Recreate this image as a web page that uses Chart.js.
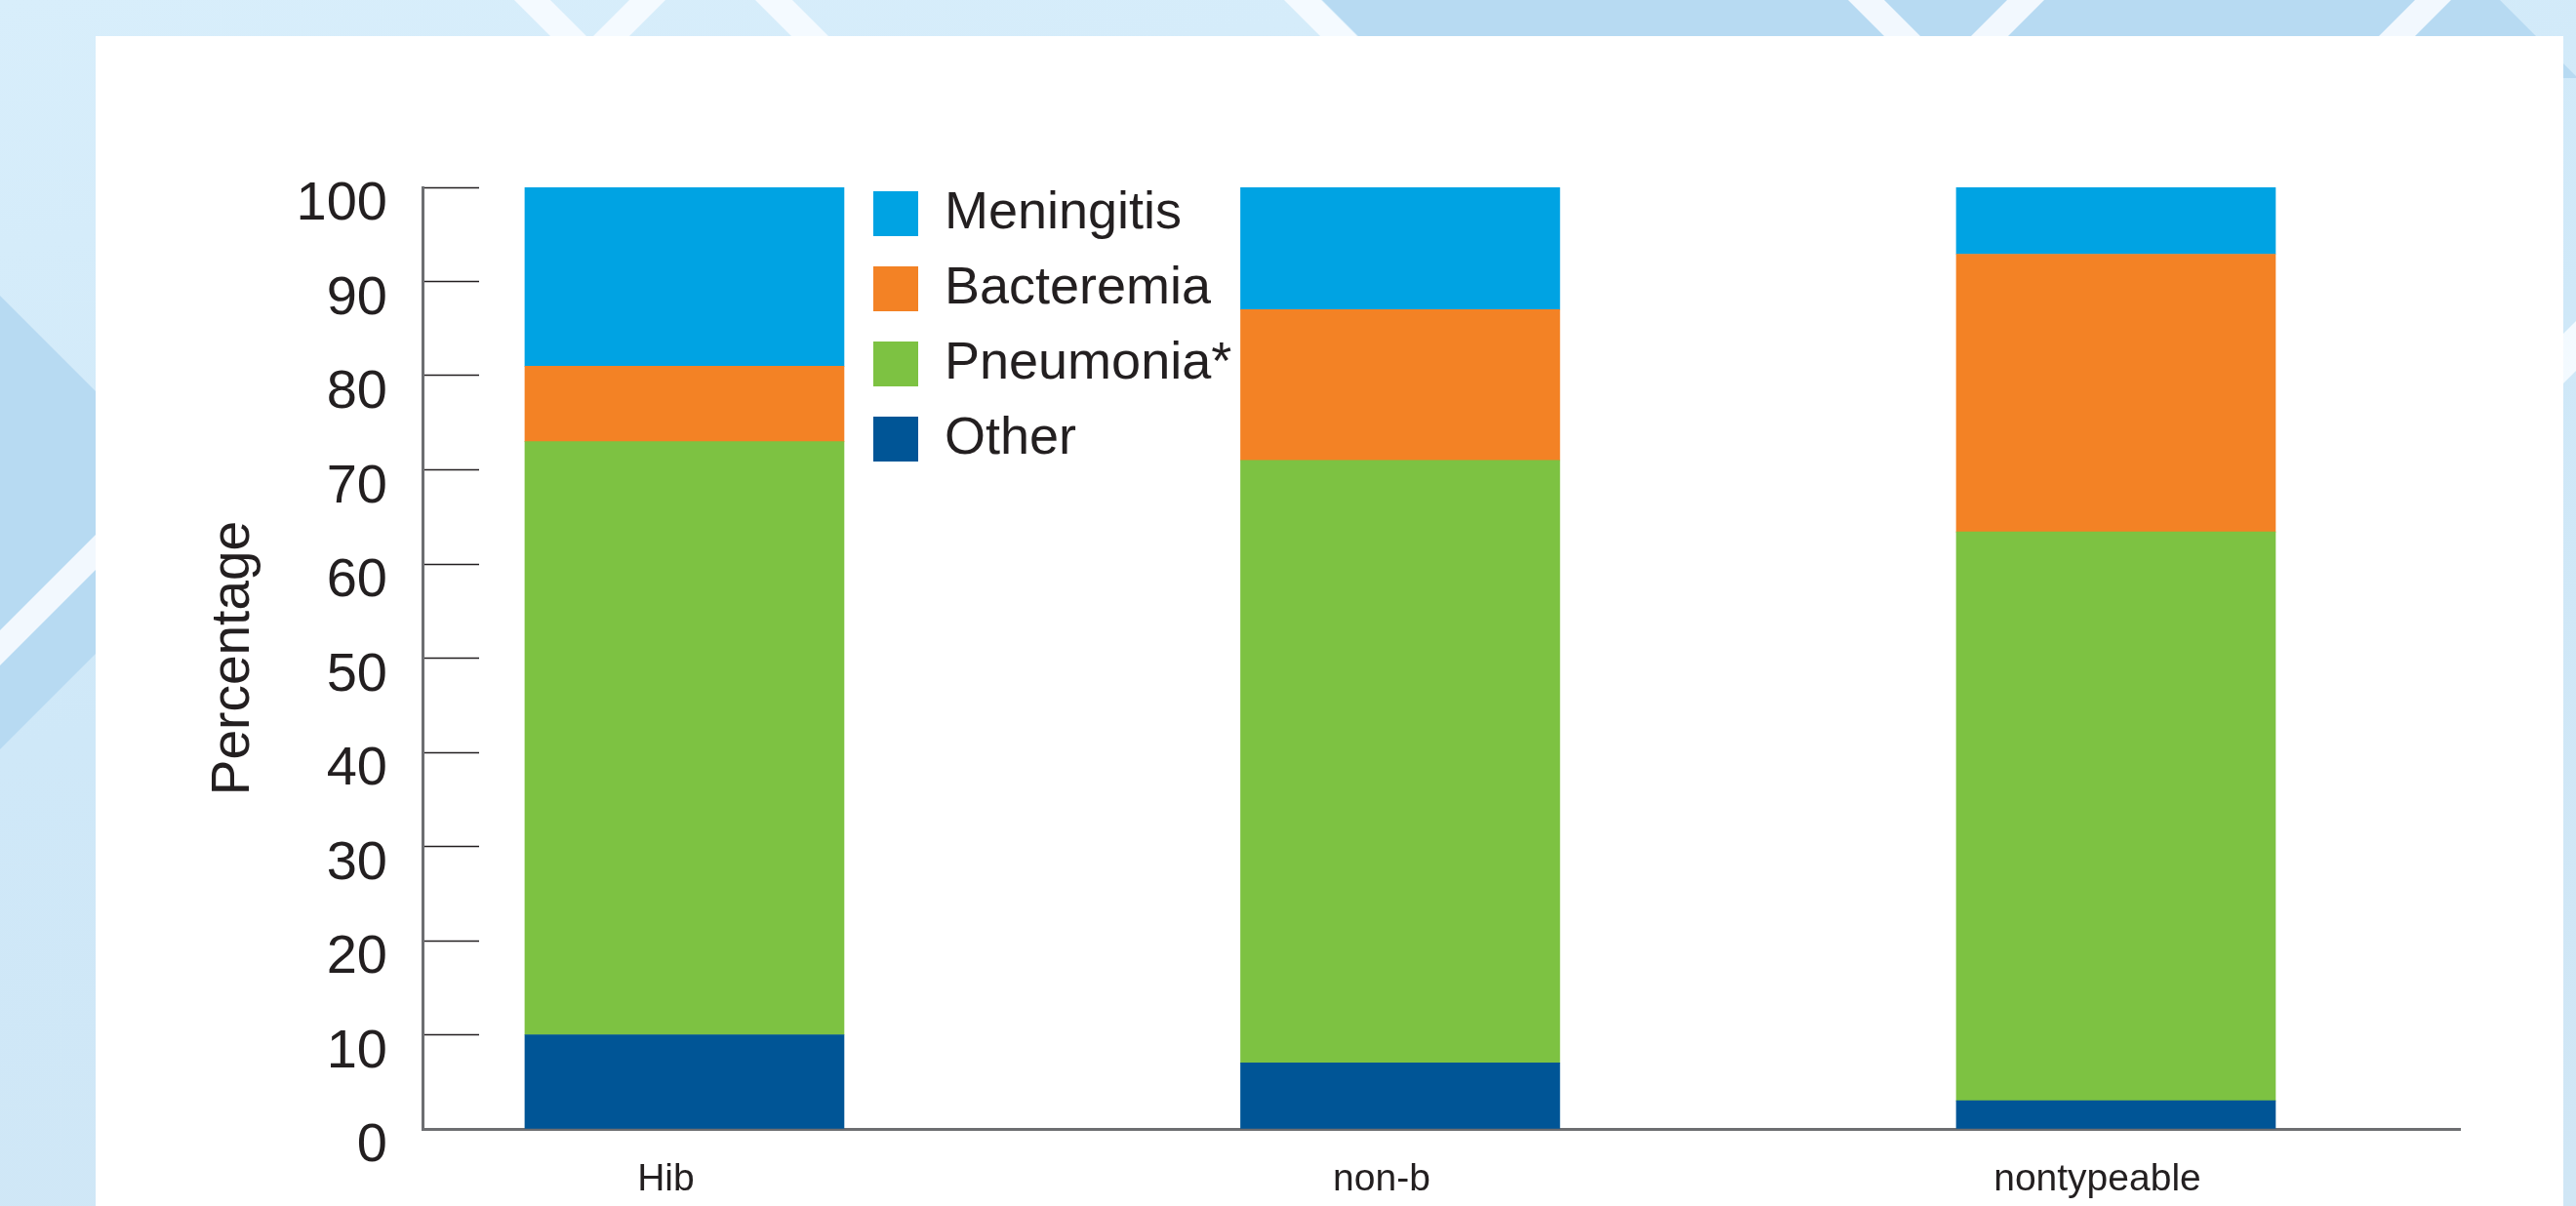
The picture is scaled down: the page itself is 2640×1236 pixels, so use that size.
<!DOCTYPE html>
<html>
<head>
<meta charset="utf-8">
<script src="https://cdn.jsdelivr.net/npm/chart.js@4.4.1/dist/chart.umd.min.js"></script>
<style>
    html, body { margin: 0; padding: 0; }
    body {
        width: 2640px; height: 1236px; overflow: hidden; position: relative;
        background: linear-gradient(170deg, #d8eefb 0%, #cfe8f8 45%, #d0e6f5 100%);
    }
    .deco { position: absolute; left: 0; top: 0; width: 2640px; height: 1236px; }
    .shade { background: #b7daf2; }
    .stripe { background: rgba(246, 251, 255, 0.92); }
    #panel { position: absolute; left: 98px; top: 37px; width: 2529px; height: 1199px; background: #fff; }
    #chart { position: absolute; left: 0; top: 0; }
</style>
</head>
<body>
<!-- decorative background -->
<div class="deco shade" style="clip-path: polygon(1355px 0, 2562px 0, 2642px 80px, 1435px 80px)"></div>
<div class="deco shade" style="clip-path: polygon(0 303px, 200px 503px, 200px 568px, 0 768px)"></div>
<div class="deco stripe" style="clip-path: polygon(527px 0, 564px 0, 644px 80px, 607px 80px)"></div>
<div class="deco stripe" style="clip-path: polygon(645px 0, 682px 0, 602px 80px, 565px 80px)"></div>
<div class="deco stripe" style="clip-path: polygon(774px 0, 812px 0, 892px 80px, 854px 80px)"></div>
<div class="deco stripe" style="clip-path: polygon(1316px 0, 1354px 0, 1434px 80px, 1396px 80px)"></div>
<div class="deco stripe" style="clip-path: polygon(1894px 0, 1931px 0, 2011px 80px, 1974px 80px)"></div>
<div class="deco stripe" style="clip-path: polygon(2057px 0, 2095px 0, 2015px 80px, 1977px 80px)"></div>
<div class="deco stripe" style="clip-path: polygon(2475px 0, 2512px 0, 2432px 80px, 2395px 80px)"></div>
<div class="deco stripe" style="clip-path: polygon(146px 500px, 182px 500px, -18px 700px, -54px 700px)"></div>
<div class="deco stripe" style="clip-path: polygon(2669px 300px, 2720px 300px, 2600px 420px, 2549px 420px)"></div>
<div id="panel"></div>
<canvas id="chart" width="2640" height="1236"></canvas>

<script>
// datos (porcentaje por tipo de Hi)
const categories = ['Hib', 'non-b', 'nontypeable'];
const other = [10, 7, 3];
const pneumonia = [63, 64, 60.4];
const bacteremia = [8, 16, 29.5];
const meningitis = [19, 13, 7.1];
const yTicks = [0, 10, 20, 30, 40, 50, 60, 70, 80, 90, 100];

const TEXT = '#231f20';
const AXIS = '#6d6e71';
const SANS = "'Liberation Sans', Arial, sans-serif";

Chart.defaults.font.family = SANS;
Chart.defaults.color = TEXT;

const toPoints = (vals) => vals.map((v, i) => ({ x: i, y: v }));

// mueve la leyenda dentro del area del grafico
const legendPlacer = {
    id: 'legendPlacer',
    afterLayout(chart) {
        const lg = chart.legend;
        const w = lg.width, h = lg.height;
        lg.left = 872;
        lg.top = 169;
        lg.right = lg.left + w;
        lg.bottom = lg.top + h;
    }
};

const ctx = document.getElementById('chart').getContext('2d');
const chart = new Chart(ctx, {
    type: 'bar',
    data: {
        datasets: [
            { label: 'Other', data: toPoints(other), backgroundColor: '#005596' },
            { label: 'Pneumonia*', data: toPoints(pneumonia), backgroundColor: '#7dc242' },
            { label: 'Bacteremia', data: toPoints(bacteremia), backgroundColor: '#f38225' },
            { label: 'Meningitis', data: toPoints(meningitis), backgroundColor: '#00a3e3' }
        ]
    },
    options: {
        responsive: false,
        animation: false,
        barThickness: 327,
        layout: { padding: { left: 0, top: 192, right: 119, bottom: 0 } },
        plugins: {
            legend: {
                position: 'chartArea',
                align: 'start',
                reverse: true,
                labels: {
                    boxWidth: 46,
                    boxHeight: 46,
                    padding: 23,
                    color: TEXT,
                    font: { size: 54 }
                }
            },
            tooltip: { enabled: false }
        },
        scales: {
            x: {
                type: 'linear',
                stacked: true,
                offset: false,
                min: -0.366,
                max: 2.4806,
                afterBuildTicks: (s) => { s.ticks = categories.map((c, i) => ({ value: i })); },
                afterFit: (s) => { s.height = 79; s.paddingLeft = 0; s.paddingRight = 0; },
                grid: { display: false, drawTicks: false, offset: false },
                border: { display: true, color: AXIS, width: 3 },
                ticks: {
                    callback: (v) => categories[v],
                    padding: 29,
                    labelOffset: -19,
                    maxRotation: 0,
                    autoSkip: false,
                    color: TEXT,
                    font: { size: 39 }
                }
            },
            y: {
                stacked: true,
                min: 0,
                max: 100,
                afterBuildTicks: (s) => { s.ticks = yTicks.map((v) => ({ value: v })); },
                afterFit: (s) => { s.width = 433; s.paddingTop = 0; s.paddingBottom = 0; },
                grid: {
                    drawOnChartArea: false,
                    drawTicks: true,
                    tickLength: -58,
                    tickColor: TEXT,
                    tickWidth: 1.5
                },
                border: { color: AXIS, width: 3 },
                ticks: { padding: 94, labelOffset: 18, color: TEXT, font: { size: 56 } },
                title: {
                    display: true,
                    text: 'Percentage',
                    color: TEXT,
                    font: { size: 55 },
                    padding: { top: 207, bottom: 0 }
                }
            }
        }
    },
    plugins: [legendPlacer]
});
</script>
</body>
</html>
